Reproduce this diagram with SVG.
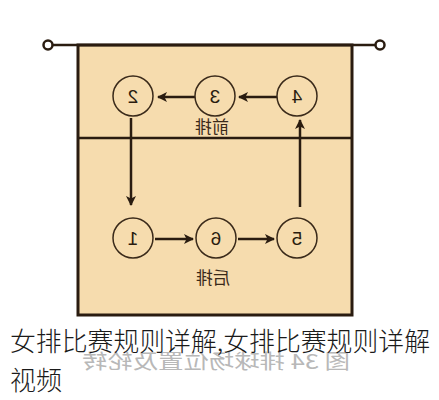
<svg xmlns="http://www.w3.org/2000/svg" width="439" height="400" viewBox="0 0 439 400">
<defs>
<marker id="ah" viewBox="0 0 10 10" refX="9" refY="5" markerWidth="4" markerHeight="4" orient="auto" markerUnits="strokeWidth">
<path d="M0,0 L10,5 L0,10 L2.5,5 Z" fill="#2a1c10"/>
</marker>
<style>
.court{fill:#f6dcae;stroke:#2a1c10;stroke-width:3}
.pos{fill:none;stroke:#3a2a1a;stroke-width:1.5}
.num{font-family:"Liberation Sans",Arial,sans-serif;font-size:19px;fill:#2a1c10;text-anchor:middle}
.lbl{font-family:"Noto Sans CJK SC",sans-serif;font-size:17px;fill:#3a2a1a;text-anchor:middle}
.arr{stroke:#2a1c10;stroke-width:2.5;fill:none;marker-end:url(#ah)}
.cap{font-family:"Noto Sans CJK SC",sans-serif;font-size:26px;font-weight:300;fill:#1a1a1a}
.ghost{font-family:"Noto Sans CJK SC",sans-serif;font-size:20px;fill:#b8b8b8}
</style>
</defs>
<rect width="439" height="400" fill="#ffffff"/>
<g id="court">
<rect class="court" x="78" y="45" width="274" height="270"/>
<line x1="78" y1="138" x2="352" y2="138" stroke="#2a1c10" stroke-width="2.5"/>
</g>
<g id="net">
<line x1="52" y1="45" x2="376" y2="45" stroke="#2a1c10" stroke-width="2.5"/>
<circle cx="48" cy="45" r="4.5" fill="#fff" stroke="#2a1c10" stroke-width="2.5"/>
<circle cx="380" cy="45" r="4.5" fill="#fff" stroke="#2a1c10" stroke-width="2.5"/>
</g>
<g id="connectors">
<line class="arr" x1="277" y1="97" x2="239" y2="97"/>
<line class="arr" x1="195" y1="97" x2="158" y2="97"/>
<line class="arr" x1="131" y1="118" x2="131" y2="205"/>
<line class="arr" x1="155" y1="239" x2="193" y2="239"/>
<line class="arr" x1="238" y1="239" x2="274" y2="239"/>
<line class="arr" x1="300" y1="207" x2="300" y2="120"/>
</g>
<g id="p2"><circle class="pos" cx="133" cy="96" r="20"/><text class="num" transform="translate(266,0) scale(-1,1)" x="133" y="103">2</text></g>
<g id="p3"><circle class="pos" cx="215" cy="96" r="20"/><text class="num" transform="translate(430,0) scale(-1,1)" x="215" y="103">3</text></g>
<g id="p4"><circle class="pos" cx="297" cy="96" r="20"/><text class="num" transform="translate(594,0) scale(-1,1)" x="297" y="103">4</text></g>
<g id="p1"><circle class="pos" cx="133" cy="238" r="20"/><text class="num" transform="translate(266,0) scale(-1,1)" x="133" y="245">1</text></g>
<g id="p6"><circle class="pos" cx="216" cy="238" r="20"/><text class="num" transform="translate(432,0) scale(-1,1)" x="216" y="245">6</text></g>
<g id="p5"><circle class="pos" cx="297" cy="238" r="20"/><text class="num" transform="translate(594,0) scale(-1,1)" x="297" y="245">5</text></g>
<g id="front-label"><text class="lbl" transform="translate(424,0) scale(-1,1)" x="212" y="133">前排</text></g>
<g id="back-label"><text class="lbl" transform="translate(426,0) scale(-1,1)" x="213" y="284">后排</text></g>
<g id="ghost-caption"><text class="ghost" transform="translate(432,0) scale(-1,1)" x="82" y="369" textLength="268" lengthAdjust="spacingAndGlyphs">图 34 排球场位置及轮转</text></g>
<g id="caption">
<text class="cap" x="10" y="351" textLength="420" lengthAdjust="spacingAndGlyphs">女排比赛规则详解,女排比赛规则详解</text>
<text class="cap" x="10" y="390">视频</text>
</g>
</svg>
